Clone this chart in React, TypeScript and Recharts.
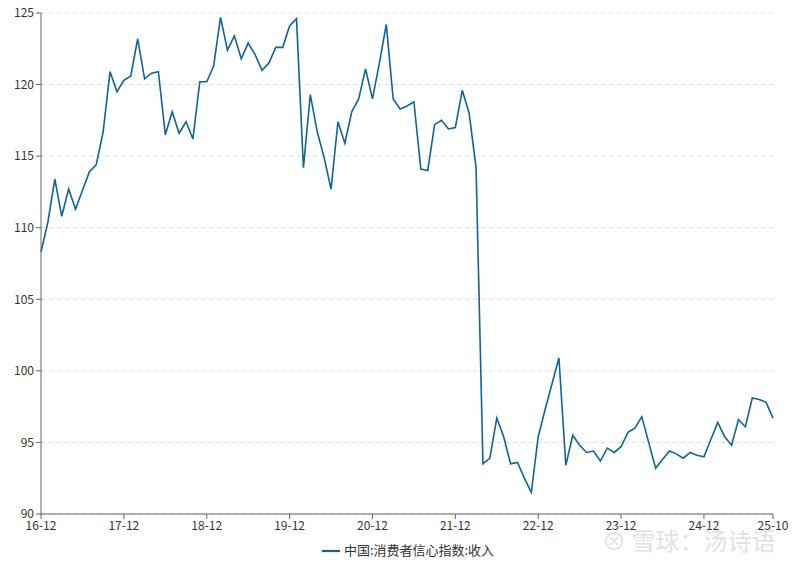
import React from "react";
import { LineChart, Line, XAxis, YAxis, CartesianGrid, Legend } from "recharts";

const startYear = 2016;
const startMonth = 12;

const seriesName = "中国:消费者信心指数:收入";

const incomeIndex: (number | null)[] = [
  108.3, 110.4, 113.4, 110.8, 112.7, 111.3, 112.6, 113.9, 114.4, 116.7,
  120.9, 119.5, 120.3, 120.6, 123.2, 120.4, 120.8, 120.9, 116.5, 118.1,
  116.6, 117.4, 116.2, 120.2, 120.2, 121.3, 124.7, 122.4, 123.4, 121.8,
  122.9, 122.1, 121.0, 121.5, 122.6, 122.6, 124.1, 124.6, 114.2, 119.3,
  116.7, 114.9, 112.7, 117.4, 115.9, 118.1, 119.0, 121.1, 119.0, 121.5,
  124.2, 119.0, 118.3, 118.5, 118.8, 114.1, 114.0, 117.2, 117.5, 116.9,
  117.0, 119.6, 118.0, 114.2, 93.5, 93.9, 96.7, 95.4, 93.5, 93.6,
  92.5, 91.5, 95.4, 97.3, 99.1, 100.9, 93.4, 95.5, 94.8, 94.3,
  94.4, 93.7, 94.6, 94.3, 94.7, 95.7, 96.0, 96.8, null, 93.2,
  93.8, 94.4, 94.2, 93.9, 94.3, 94.1, 94.0, 95.2, 96.4, 95.4,
  94.8, 96.6, 96.1, 98.1, 98.0, 97.8, 96.7,
];

const monthLabels: string[] = incomeIndex.map((_, i) => {
  const total = startYear * 12 + (startMonth - 1) + i;
  const y = Math.floor(total / 12) % 100;
  const m = (total % 12) + 1;
  return `${String(y).padStart(2, "0")}-${String(m).padStart(2, "0")}`;
});

const xTickLabels = ["16-12", "17-12", "18-12", "19-12", "20-12", "21-12", "22-12", "23-12", "24-12", "25-10"];
const yTicks = [90, 95, 100, 105, 110, 115, 120, 125];

const data = monthLabels.map((label, i) => ({ month: label, value: incomeIndex[i] }));

const FONT = "'Noto Sans CJK SC', 'Noto Sans', sans-serif";
const LINE_COLOR = "#0f6499";

export default function App() {
  return (
    <div style={{ position: "absolute", left: 0, top: 0, width: 800, height: 564, background: "#fff", fontFamily: FONT }}>
      <LineChart
        width={800}
        height={564}
        data={data}
        margin={{ top: 13, right: 27, left: 0, bottom: 0 }}
      >
        <CartesianGrid vertical={false} stroke="#dcdcdc" strokeDasharray="4 4" />
        <XAxis
          dataKey="month"
          ticks={xTickLabels}
          interval={0}
          height={26}
          axisLine={{ stroke: "#666" }}
          tickLine={{ stroke: "#666" }}
          tickSize={5}
          tick={{ fill: "#333", fontSize: 12, fontFamily: FONT }}
        />
        <YAxis
          domain={[90, 125]}
          ticks={yTicks}
          width={41}
          axisLine={{ stroke: "#666" }}
          tickLine={{ stroke: "#666" }}
          tickSize={5}
          tick={{ fill: "#333", fontSize: 12, fontFamily: FONT }}
        />
        <Legend
          verticalAlign="bottom"
          height={24}
          iconType="plainline"
          iconSize={18}
          wrapperStyle={{ fontSize: 13, fontFamily: FONT, color: "#333", left: 6, width: 814 }}
          formatter={(v: string) => <span style={{ color: "#333" }}>{v}</span>}
        />
        <Line
          type="linear"
          dataKey="value"
          name={seriesName}
          stroke={LINE_COLOR}
          strokeWidth={1.6}
          dot={false}
          connectNulls
          isAnimationActive={false}
        />
      </LineChart>
      <div
        style={{
          position: "absolute",
          left: 602,
          top: 522,
          fontSize: 24,
          color: "rgba(200,200,200,0.55)",
          fontFamily: FONT,
          pointerEvents: "none",
        }}
      >
        ⊗ 雪球：汤诗语
      </div>
    </div>
  );
}
